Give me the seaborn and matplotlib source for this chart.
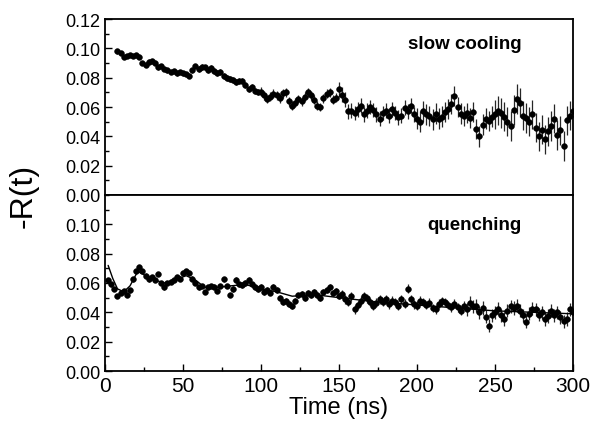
import numpy as np
import pandas as pd
import seaborn as sns
import matplotlib.pyplot as plt
from matplotlib.ticker import MultipleLocator

# slow cooling, t = 8 ... 300 ns every 2 ns
slow_vals = [
    0.098, 0.097, 0.094, 0.095, 0.0955, 0.095, 0.0955, 0.094, 0.090, 0.089,
    0.091, 0.0915, 0.090, 0.087, 0.088, 0.086, 0.085, 0.084, 0.0845, 0.083,
    0.084, 0.083, 0.0825, 0.081, 0.085, 0.088, 0.086, 0.0875, 0.087, 0.085,
    0.0865, 0.0845, 0.083, 0.084, 0.081, 0.080, 0.079, 0.0785, 0.077, 0.078,
    0.0775, 0.075, 0.072, 0.0735, 0.071, 0.070, 0.0705, 0.068, 0.0655, 0.067,
    0.069, 0.068, 0.066, 0.0695, 0.070, 0.064, 0.061, 0.063, 0.0655, 0.064,
    0.067, 0.070, 0.068, 0.065, 0.061, 0.060, 0.066, 0.069, 0.070, 0.065,
    0.0665, 0.072, 0.0685, 0.065, 0.057, 0.0575, 0.056, 0.0585, 0.061, 0.055,
    0.0575, 0.060, 0.058, 0.055, 0.052, 0.056, 0.0575, 0.054, 0.0585, 0.056,
    0.053, 0.054, 0.0595, 0.057, 0.061, 0.055, 0.052, 0.050, 0.057, 0.055,
    0.054, 0.0515, 0.0555, 0.052, 0.0535, 0.0565, 0.0585, 0.062, 0.0675, 0.060,
    0.0555, 0.054, 0.056, 0.0525, 0.0565, 0.045, 0.040, 0.048, 0.052, 0.0505,
    0.0535, 0.055, 0.0575, 0.056, 0.0535, 0.050, 0.047, 0.058, 0.0655, 0.063,
    0.054, 0.0525, 0.050, 0.055, 0.046, 0.040, 0.0445, 0.038, 0.0435, 0.047,
    0.052, 0.041, 0.044, 0.0335, 0.051, 0.054, 0.057,
]
slow_err = (
    [0.0015] * 26 + [0.002] * 20 + [0.003] * 25 + [0.005] * 25
    + [0.007] * 25 + [0.01] * 26
)

# quenching, t = 2 ... 300 ns every 2 ns
quench_vals = [
    0.062, 0.059, 0.056, 0.051, 0.053, 0.0545, 0.052, 0.055, 0.0625, 0.068,
    0.071, 0.068, 0.065, 0.0625, 0.064, 0.062, 0.066, 0.060, 0.057, 0.060,
    0.061, 0.062, 0.064, 0.063, 0.0665, 0.068, 0.067, 0.063, 0.060, 0.057,
    0.058, 0.054, 0.057, 0.058, 0.0575, 0.0545, 0.058, 0.0625, 0.058, 0.052,
    0.056, 0.062, 0.059, 0.0585, 0.060, 0.062, 0.059, 0.0575, 0.056, 0.057,
    0.054, 0.055, 0.0535, 0.0575, 0.055, 0.050, 0.047, 0.048, 0.0455, 0.044,
    0.048, 0.0515, 0.0525, 0.050, 0.053, 0.0515, 0.054, 0.052, 0.050, 0.054,
    0.0555, 0.057, 0.053, 0.0545, 0.051, 0.0525, 0.049, 0.047, 0.051, 0.042,
    0.045, 0.048, 0.051, 0.0495, 0.047, 0.0445, 0.0465, 0.049, 0.047, 0.049,
    0.0455, 0.048, 0.047, 0.0445, 0.049, 0.046, 0.056, 0.049, 0.0455, 0.0445,
    0.048, 0.047, 0.045, 0.0465, 0.043, 0.042, 0.046, 0.0475, 0.047, 0.045,
    0.0435, 0.046, 0.0435, 0.041, 0.0445, 0.042, 0.0465, 0.044, 0.0445, 0.040,
    0.043, 0.037, 0.031, 0.038, 0.040, 0.0425, 0.038, 0.0355, 0.041, 0.044,
    0.043, 0.0445, 0.041, 0.038, 0.0335, 0.039, 0.0425, 0.042, 0.0385, 0.040,
    0.0355, 0.0375, 0.041, 0.038, 0.040, 0.0365, 0.034, 0.0355, 0.042, 0.040,
]
quench_err = (
    [0.0015] * 40 + [0.002] * 35 + [0.003] * 40 + [0.0045] * 35
)

# fit curve for quenching
fit_t = [2, 5, 8, 12, 16, 21, 26, 32, 38, 45, 52, 58, 64, 72, 80, 90,
         100, 110, 120, 135, 150, 175, 200, 225, 250, 275, 300]
fit_v = [0.072, 0.063, 0.056, 0.054, 0.058, 0.068, 0.065, 0.062, 0.060,
         0.062, 0.065, 0.062, 0.057, 0.057, 0.058, 0.059, 0.056, 0.054,
         0.051, 0.052, 0.050, 0.047, 0.045, 0.043, 0.041, 0.040, 0.039]

slow = pd.DataFrame({"t": np.arange(8, 8 + 2 * len(slow_vals), 2),
                     "v": slow_vals, "e": slow_err})
quench = pd.DataFrame({"t": np.arange(2, 2 + 2 * len(quench_vals), 2),
                       "v": quench_vals, "e": quench_err})
fit = pd.DataFrame({"t": fit_t, "v": fit_v})

sns.set_theme(style="ticks")
plt.rcParams["font.family"] = ["Liberation Sans", "DejaVu Sans"]
plt.rcParams["text.color"] = "black"
plt.rcParams["axes.labelcolor"] = "black"
plt.rcParams["xtick.color"] = "black"
plt.rcParams["ytick.color"] = "black"

fig = plt.figure(figsize=(5.91, 4.27), dpi=100)
ax1 = fig.add_axes([0.1777, 0.541, 0.7918, 0.412])
ax2 = fig.add_axes([0.1777, 0.1288, 0.7918, 0.4122], sharex=ax1)

for ax, df, label, ly in [(ax1, slow, "slow cooling", 0.86),
                          (ax2, quench, "quenching", 0.835)]:
    ax.errorbar(df["t"], df["v"], yerr=df["e"], fmt="none",
                ecolor="0.15", elinewidth=0.9, zorder=1)
    sns.scatterplot(data=df, x="t", y="v", ax=ax, color="black",
                    s=17, edgecolor="black", linewidth=0.4, zorder=2)
    ax.set_ylim(0, 0.12)
    ax.set_xlim(0, 300)
    ax.set_xlabel("")
    ax.set_ylabel("")
    ax.yaxis.set_minor_locator(MultipleLocator(0.01))
    ax.xaxis.set_major_locator(MultipleLocator(50))
    ax.xaxis.set_minor_locator(MultipleLocator(25))
    ax.tick_params(which="both", direction="in", right=False, top=False,
                   width=1.0, labelsize=13)
    ax.tick_params(which="major", length=5)
    ax.tick_params(which="minor", length=3)
    for s in ax.spines.values():
        s.set_linewidth(1.3)
        s.set_color("black")
    ax.text(0.89, ly, label, transform=ax.transAxes, ha="right",
            va="center", fontsize=13.5, fontweight="bold")

sns.lineplot(data=fit, x="t", y="v", ax=ax2, color="black", lw=1.0,
             zorder=3)
ax2.set_xlabel("")
ax2.set_ylabel("")

ax1.set_yticks(np.arange(0, 0.121, 0.02))
ax1.set_yticklabels([f"{v:.2f}" for v in np.arange(0, 0.121, 0.02)])
ax1.tick_params(axis="x", which="both", bottom=False, labelbottom=False)
ax2.set_yticks(np.arange(0, 0.101, 0.02))
ax2.set_yticklabels([f"{v:.2f}" for v in np.arange(0, 0.101, 0.02)])
ax2.tick_params(axis="x", labelsize=15)

ax2.set_xlabel("Time (ns)", fontsize=17, labelpad=1)
fig.text(0.04, 0.54, "-R(t)", rotation=90, fontsize=23,
         ha="center", va="center")

fig.savefig("out.png", dpi=100)
